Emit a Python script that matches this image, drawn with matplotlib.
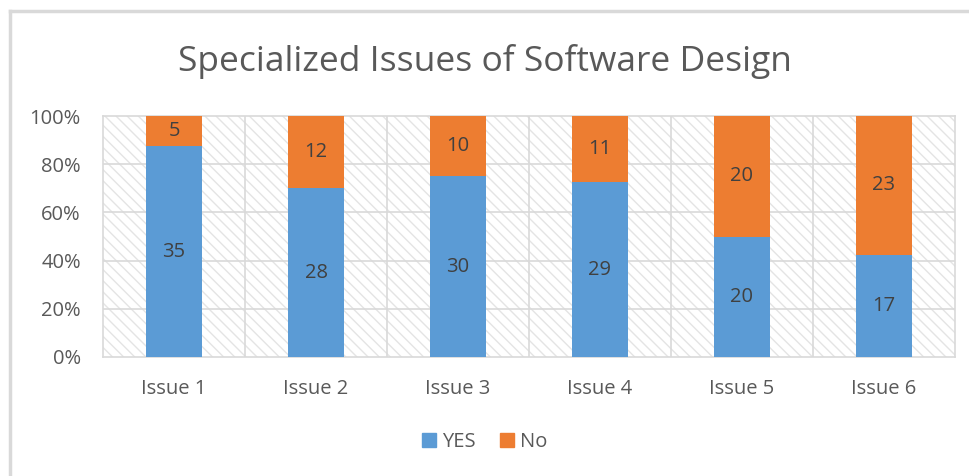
import numpy as np
import matplotlib
matplotlib.use("Agg")
import matplotlib.pyplot as plt
from matplotlib.patches import Patch, Rectangle

plt.rcParams['font.family'] = ['Open Sans', 'DejaVu Sans']
plt.rcParams['hatch.linewidth'] = 1.0

# data
categories = ["Issue 1", "Issue 2", "Issue 3", "Issue 4", "Issue 5", "Issue 6"]
yes_counts = [35, 28, 30, 29, 20, 17]
no_counts = [5, 12, 10, 11, 20, 23]

yes = np.array(yes_counts, dtype=float)
no = np.array(no_counts, dtype=float)
total = yes + no
yes_pct = yes / total * 100
no_pct = no / total * 100

blue = '#5b9bd5'
orange = '#ed7d31'
txt = '#595959'
grid_c = '#d9d9d9'

fig = plt.figure(figsize=(9.7, 4.76), dpi=100)
ax = fig.add_axes([0.1062, 0.25, 0.8783, 0.5063])

# hatched plot area
ax.add_patch(Rectangle((0, 0), 1, 1, transform=ax.transAxes, facecolor='white',
                       edgecolor='#e4e4e4', hatch='\\\\\\', lw=0, zorder=0))

x = np.arange(len(categories))
w = 0.39
ax.bar(x, yes_pct, w, color=blue, zorder=3, label='YES')
ax.bar(x, no_pct, w, bottom=yes_pct, color=orange, zorder=3, label='No')

for i in range(len(categories)):
    ax.text(x[i], yes_pct[i] / 2, str(yes_counts[i]), ha='center', va='center',
            fontsize=14.5, color='#404040', zorder=4)
    ax.text(x[i], yes_pct[i] + no_pct[i] / 2, str(no_counts[i]), ha='center',
            va='center', fontsize=14.5, color='#404040', zorder=4)

ax.set_xlim(-0.5, len(categories) - 0.5)
ax.set_ylim(0, 100)
ax.set_yticks(np.arange(0, 101, 20))
ax.set_yticklabels([f"{v}%" for v in range(0, 101, 20)])
ax.set_xticks(x)
ax.set_xticklabels(categories)
ax.tick_params(length=0, labelsize=14.5, colors=txt)
ax.tick_params(axis='y', pad=16)
ax.tick_params(axis='x', pad=16)

# grid lines
for yv in range(20, 100, 20):
    ax.axhline(yv, color=grid_c, lw=1.2, zorder=2)
for xv in np.arange(0.5, len(categories) - 0.5, 1):
    ax.axvline(xv, color=grid_c, lw=1.2, zorder=2)

for s in ax.spines.values():
    s.set_color(grid_c)
    s.set_linewidth(1.2)

fig.text(0.5, 0.87, "Specialized Issues of Software Design", ha='center',
         va='center', fontsize=25.5, color=txt)

handles = [Patch(color=blue, label='YES'), Patch(color=orange, label='No')]
fig.legend(handles=handles, loc='center', bbox_to_anchor=(0.5, 0.072), ncol=2,
           frameon=False, fontsize=14.5, labelcolor=txt, handlelength=0.7,
           handleheight=0.7, handletextpad=0.3, columnspacing=1.2)

# chart border (top and left visible)
fig.add_artist(plt.Line2D([0.0108, 1.0], [0.977, 0.977], color=grid_c, lw=2.5,
                          transform=fig.transFigure))
fig.add_artist(plt.Line2D([0.0108, 0.0108], [0.0, 0.977], color=grid_c, lw=2.5,
                          transform=fig.transFigure))

fig.savefig("out.png", dpi=100)
